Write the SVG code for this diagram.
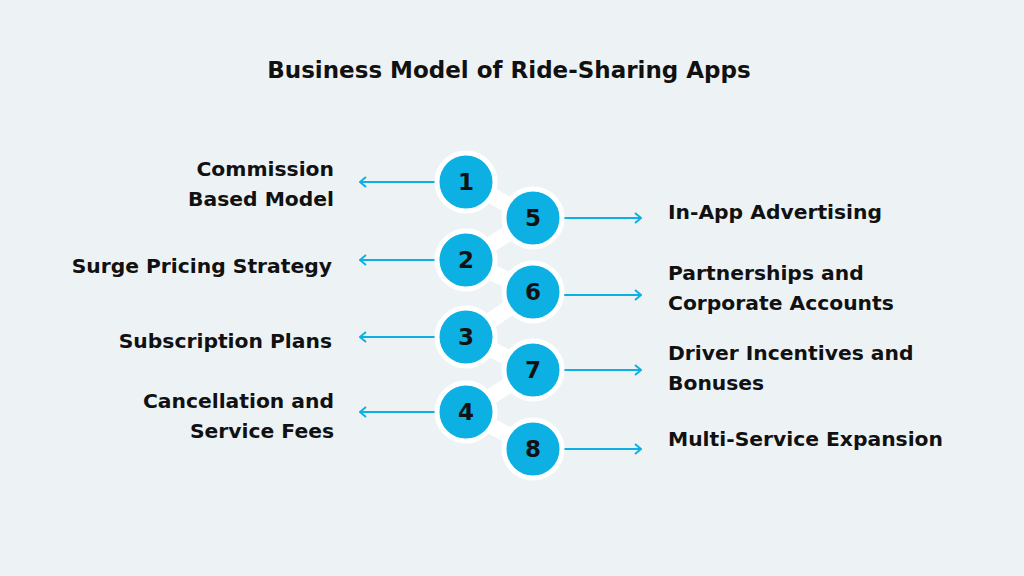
<svg xmlns="http://www.w3.org/2000/svg" width="1024" height="576" viewBox="0 0 1024 576">
<defs>
<style>
.t{font-family:"DejaVu Sans","Liberation Sans",sans-serif;font-weight:700;font-size:20.3px;fill:#111}
.n{font-family:"DejaVu Sans","Liberation Sans",sans-serif;font-weight:700;font-size:23px;fill:#111;text-anchor:middle}
.c{fill:#0db0e2;stroke:#fff;stroke-width:5}
.a{stroke:#0db0e2;stroke-width:2;fill:none}
</style>
<marker id="h" viewBox="0 0 12 12" refX="11" refY="6" markerWidth="12" markerHeight="12" orient="auto-start-reverse" markerUnits="userSpaceOnUse"><path d="M5 1L11 6L5 11" fill="none" stroke="#0db0e2" stroke-width="2"/></marker>
</defs>
<rect width="1024" height="576" fill="#edf3f5"/>
<text x="509" y="78" text-anchor="middle" font-family="DejaVu Sans,Liberation Sans,sans-serif" font-weight="700" font-size="23" fill="#111">Business Model of Ride-Sharing Apps</text>
<g id="connectors">
<polyline points="466,182 533,218 466,260 533,292 466,337 533,370 466,412 533,449" fill="none" stroke="#fff" stroke-width="16" stroke-linejoin="round"/>
<line class="a" x1="440" y1="182" x2="360" y2="182" marker-end="url(#h)"/>
<line class="a" x1="440" y1="260" x2="360" y2="260" marker-end="url(#h)"/>
<line class="a" x1="440" y1="337" x2="360" y2="337" marker-end="url(#h)"/>
<line class="a" x1="440" y1="412" x2="360" y2="412" marker-end="url(#h)"/>
<line class="a" x1="560" y1="218" x2="641" y2="218" marker-end="url(#h)"/>
<line class="a" x1="560" y1="295" x2="641" y2="295" marker-end="url(#h)"/>
<line class="a" x1="560" y1="370" x2="641" y2="370" marker-end="url(#h)"/>
<line class="a" x1="560" y1="449" x2="641" y2="449" marker-end="url(#h)"/>
</g>
<g id="n1"><circle class="c" cx="466" cy="182" r="29"/><text class="n" x="466" y="190">1</text><text class="t" x="334" y="176" text-anchor="end">Commission</text><text class="t" x="334" y="206" text-anchor="end">Based Model</text></g>
<g id="n2"><circle class="c" cx="466" cy="260" r="29"/><text class="n" x="466" y="268">2</text><text class="t" x="332" y="273" text-anchor="end">Surge Pricing Strategy</text></g>
<g id="n3"><circle class="c" cx="466" cy="337" r="29"/><text class="n" x="466" y="345">3</text><text class="t" x="332" y="348" text-anchor="end">Subscription Plans</text></g>
<g id="n4"><circle class="c" cx="466" cy="412" r="29"/><text class="n" x="466" y="420">4</text><text class="t" x="334" y="408" text-anchor="end">Cancellation and</text><text class="t" x="334" y="438" text-anchor="end">Service Fees</text></g>
<g id="n5"><circle class="c" cx="533" cy="218" r="29"/><text class="n" x="533" y="226">5</text><text class="t" x="668" y="219">In-App Advertising</text></g>
<g id="n6"><circle class="c" cx="533" cy="292" r="29"/><text class="n" x="533" y="300">6</text><text class="t" x="668" y="280">Partnerships and</text><text class="t" x="668" y="310">Corporate Accounts</text></g>
<g id="n7"><circle class="c" cx="533" cy="370" r="29"/><text class="n" x="533" y="378">7</text><text class="t" x="668" y="360">Driver Incentives and</text><text class="t" x="668" y="390">Bonuses</text></g>
<g id="n8"><circle class="c" cx="533" cy="449" r="29"/><text class="n" x="533" y="457">8</text><text class="t" x="668" y="446">Multi-Service Expansion</text></g>
</svg>
